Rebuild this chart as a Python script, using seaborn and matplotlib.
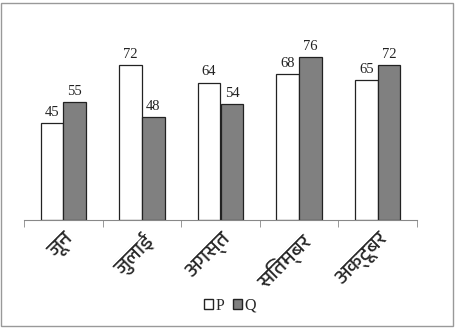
import matplotlib
matplotlib.use("Agg")
import matplotlib.pyplot as plt
import seaborn as sns
import pandas as pd
from matplotlib.patches import Rectangle, Patch
from matplotlib import font_manager
import matplotlib.transforms as mtrans

months = ["जून", "जुलाई", "अगस्त", "सितम्बर", "अक्टूबर"]
p_vals = [45, 72, 64, 68, 65]
q_vals = [55, 48, 54, 76, 72]
series = ["P", "Q"]

df = pd.DataFrame({
    "month": months * 2,
    "value": p_vals + q_vals,
    "series": ["P"] * len(months) + ["Q"] * len(months),
})

sns.set_style("white")
names = sorted({f.name for f in font_manager.fontManager.ttflist})
deva = [n for n in names if "Devanagari" in n or "Lohit" in n or "Mangal" in n or "FreeSans" in n]
plt.rcParams["font.family"] = ["Liberation Serif", "DejaVu Serif"]

fig = plt.figure(figsize=(4.6, 3.29), dpi=100)
ax = fig.add_axes([24 / 460, 1 - 220 / 329, (417 - 24) / 460, 200 / 329])

sns.barplot(data=df, x="month", y="value", hue="series", order=months,
            hue_order=series, palette={"P": "white", "Q": "#808080"},
            width=0.58, edgecolor="#222222", linewidth=0.9, ax=ax, legend=False)

for cont in ax.containers:
    ax.bar_label(cont, padding=3, fontsize=10.5, color="#222222")

ax.set_ylim(0, 200 / 2.148)
ax.set_xlim(-0.5, len(months) - 0.5)
ax.set_xlabel("")
ax.set_ylabel("")
ax.set_yticks([])
for s in ["top", "right", "left"]:
    ax.spines[s].set_visible(False)
ax.spines["bottom"].set_color("#888888")
ax.spines["bottom"].set_linewidth(0.8)

ax.set_xticks([i - 0.5 for i in range(len(months) + 1)], minor=True)
ax.tick_params(axis="x", which="minor", length=5, color="#888888", direction="out", bottom=True)
ax.tick_params(axis="x", which="major", length=0, pad=7)
ax.set_xticks(range(len(months)))
lab_family = deva + ["Liberation Serif", "DejaVu Sans"] if deva else ["Liberation Serif", "DejaVu Sans"]
ax.set_xticklabels(months, rotation=45, ha="right", rotation_mode="anchor",
                   fontsize=15, family=lab_family)
offset = mtrans.ScaledTranslation(1 / 100, 0, fig.dpi_scale_trans)
for lab in ax.get_xticklabels():
    lab.set_transform(lab.get_transform() + offset)

handles = [Patch(facecolor="white", edgecolor="#222222", label="P"),
           Patch(facecolor="#808080", edgecolor="#222222", label="Q")]
fig.legend(handles=handles, loc="center", bbox_to_anchor=(230 / 460, 1 - 306 / 329),
           ncol=2, frameon=False, fontsize=11.5, handlelength=0.6, handleheight=0.6,
           handletextpad=0.15, columnspacing=0.5)

fig.add_artist(Rectangle((1 / 460, 3 / 329), 452 / 460, 323 / 329, transform=fig.transFigure,
                         fill=False, edgecolor="#999999", linewidth=1.0))

fig.savefig("out.png", dpi=100, facecolor="white")
